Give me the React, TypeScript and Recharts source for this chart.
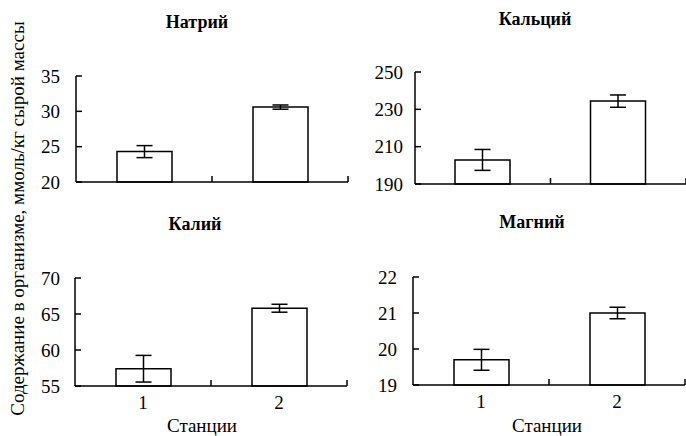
import { Bar, BarChart, ErrorBar, XAxis, YAxis } from "recharts";

const stations = ["1", "2"];

const sodium = [24.3, 30.6];
const sodiumErr = [0.85, 0.3];
const sodiumTicks = [20, 25, 30, 35];

const calcium = [202.9, 234.4];
const calciumErr = [5.6, 3.3];
const calciumTicks = [190, 210, 230, 250];

const potassium = [57.4, 65.8];
const potassiumErr = [1.85, 0.55];
const potassiumTicks = [55, 60, 65, 70];

const magnesium = [19.7, 21.0];
const magnesiumErr = [0.29, 0.16];
const magnesiumTicks = [19, 20, 21, 22];

const W = 686;
const H = 436;
const FONT = "Liberation Serif";
const textStyle = { fontFamily: FONT };
const AXIS_W = 40;
const AXIS_H = 40;
const X_GAP = 10;

function BandTick(props: any) {
  const { x, y, payload, showLabel } = props;
  const half =
    payload.offset != null ? payload.offset : props.width / (props.visibleTicksCount || 2) / 2;
  const axisY = y - X_GAP;
  const edge = x + half;
  return (
    <g>
      <line x1={edge} x2={edge} y1={axisY} y2={axisY - 6} stroke="#000" strokeWidth={1.5} />
      {showLabel && (
        <text x={x} y={y} dy="0.71em" textAnchor="middle" fontSize={19} fill="#000" style={textStyle}>
          {payload.value}
        </text>
      )}
    </g>
  );
}

function Panel({
  values,
  errors,
  ticks,
  box,
  showLabel,
  labelGap
}: {
  values: number[];
  errors: number[];
  ticks: number[];
  box: [number, number, number, number];
  showLabel: boolean;
  labelGap: number;
}) {
  const data = stations.map((s, i) => ({ station: s, value: values[i], err: errors[i] }));
  const [x0, y0, x1, y1] = box;
  return (
    <div style={{ position: "absolute", left: 0, top: 0 }}>
      <BarChart
        width={W}
        height={H}
        data={data}
        barSize={55}
        margin={{ top: y0, left: x0 - AXIS_W, right: W - x1, bottom: H - y1 - AXIS_H }}
      >
        <XAxis
          dataKey="station"
          height={AXIS_H}
          axisLine={{ stroke: "#000", strokeWidth: 1.5 }}
          tickLine={false}
          tickSize={0}
          tickMargin={X_GAP}
          interval={0}
          tick={<BandTick showLabel={showLabel} />}
        />
        <YAxis
          width={AXIS_W}
          domain={[ticks[0], ticks[ticks.length - 1]]}
          ticks={ticks}
          interval={0}
          axisLine={{ stroke: "#000", strokeWidth: 1.5 }}
          tickLine={{ stroke: "#000", strokeWidth: 1.5 }}
          tickSize={-6}
          tickMargin={6 + labelGap}
          tick={{ fill: "#000", fontSize: 19, fontFamily: FONT, style: textStyle }}
        />
        <Bar dataKey="value" fill="#fff" stroke="#000" strokeWidth={1.5} isAnimationActive={false}>
          <ErrorBar dataKey="err" width={8} stroke="#000" strokeWidth={1.5} />
        </Bar>
      </BarChart>
    </div>
  );
}

export default function App() {
  const title = {
    fontSize: 18,
    fontWeight: 700,
    fill: "#000",
    textAnchor: "middle" as const,
    style: textStyle
  };
  return (
    <div
      style={{
        position: "absolute",
        left: 0,
        top: 0,
        width: W,
        height: H,
        background: "#fff",
        fontFamily: FONT
      }}
    >
      <Panel values={sodium} errors={sodiumErr} ticks={sodiumTicks} box={[76, 76, 348, 182]} showLabel={false} labelGap={16} />
      <Panel values={calcium} errors={calciumErr} ticks={calciumTicks} box={[415, 72, 686, 184]} showLabel={false} labelGap={12} />
      <Panel values={potassium} errors={potassiumErr} ticks={potassiumTicks} box={[75, 278, 347, 386]} showLabel={true} labelGap={15} />
      <Panel values={magnesium} errors={magnesiumErr} ticks={magnesiumTicks} box={[413, 277, 685, 385]} showLabel={true} labelGap={16} />
      <svg width={W} height={H} style={{ position: "absolute", left: 0, top: 0, pointerEvents: "none" }}>
        <text x={197} y={28} {...title}>Натрий</text>
        <text x={535} y={25} {...title}>Кальций</text>
        <text x={195} y={230} {...title}>Калий</text>
        <text x={532} y={228} {...title}>Магний</text>
        <text x={202} y={432} fontSize={19} textAnchor="middle" fill="#000" style={textStyle}>Станции</text>
        <text x={547} y={432} fontSize={19} textAnchor="middle" fill="#000" style={textStyle}>Станции</text>
        <text
          x={24}
          y={218.5}
          fontSize={19}
          textAnchor="middle"
          fill="#000"
          style={textStyle}
          transform="rotate(-90 24 218.5)"
        >
          Содержание в организме, ммоль/кг сырой массы
        </text>
      </svg>
    </div>
  );
}
